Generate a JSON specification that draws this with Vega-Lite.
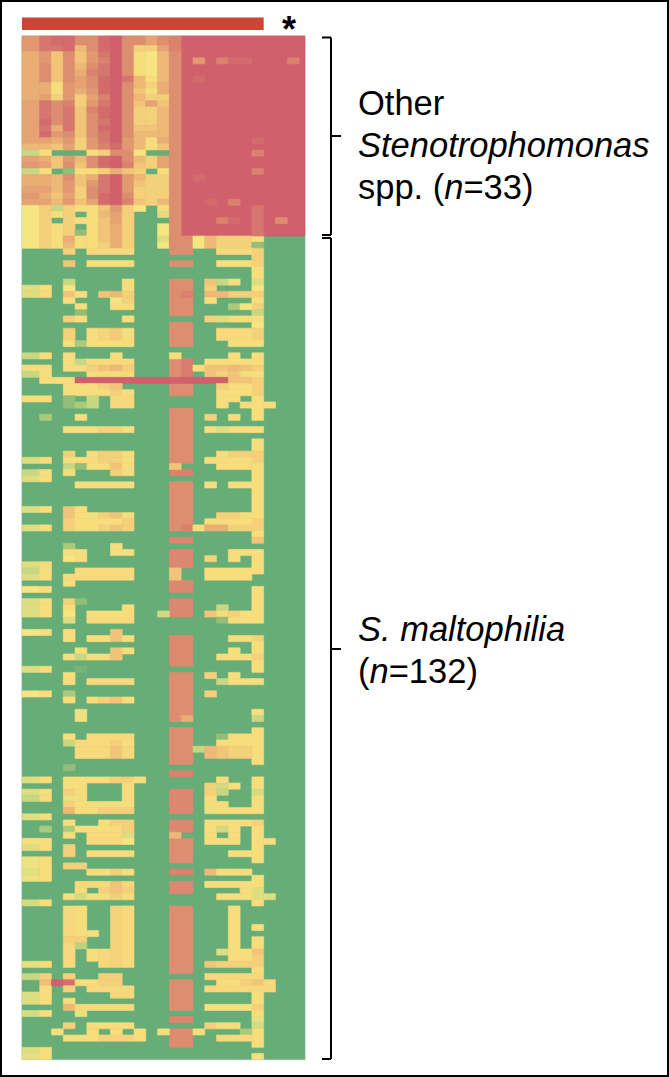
{"$schema":"https://vega.github.io/schema/vega-lite/v6.json","width":669,"height":1077,"padding":0,"autosize":{"type":"none"},"background":"white","view":{"stroke":"#000","strokeWidth":4},
"layer":[
{"data":{"values":[
{"x":-0.5,"x2":23.5,"y":-0.54,"y2":166,"v":0},{"x":13,"x2":23.5,"y":-0.54,"y2":32,"v":9},
{"x":-0.5,"x2":1,"y":-0.54,"y2":2,"v":6.5},{"x":-0.5,"x2":1,"y":2,"y2":10,"v":5.5},{"x":-0.5,"x2":1,"y":10,"y2":17,"v":6},{"x":-0.5,"x2":1,"y":17,"y2":18,"v":5},{"x":-0.5,"x2":1,"y":18,"y2":19,"v":2},{"x":-0.5,"x2":1,"y":19,"y2":20,"v":6},{"x":-0.5,"x2":1,"y":20,"y2":21,"v":6.5},{"x":-0.5,"x2":1,"y":21,"y2":22,"v":2},{"x":-0.5,"x2":1,"y":22,"y2":24,"v":5.5},{"x":-0.5,"x2":1,"y":24,"y2":25,"v":6},{"x":-0.5,"x2":1,"y":25,"y2":26,"v":6.5},{"x":-0.5,"x2":1,"y":26,"y2":27,"v":6},{"x":-0.5,"x2":1,"y":27,"y2":34,"v":3},
{"x":1,"x2":2,"y":-0.54,"y2":2,"v":8},{"x":1,"x2":2,"y":2,"y2":4,"v":6.5},{"x":1,"x2":2,"y":4,"y2":7,"v":7},{"x":1,"x2":2,"y":7,"y2":9,"v":5.5},{"x":1,"x2":2,"y":9,"y2":10,"v":6},{"x":1,"x2":2,"y":10,"y2":13,"v":8},{"x":1,"x2":2,"y":13,"y2":14,"v":8.5},{"x":1,"x2":2,"y":14,"y2":15,"v":8},{"x":1,"x2":2,"y":15,"y2":16,"v":8.5},{"x":1,"x2":2,"y":16,"y2":17,"v":6},{"x":1,"x2":2,"y":17,"y2":18,"v":5},{"x":1,"x2":2,"y":18,"y2":19,"v":3.5},{"x":1,"x2":2,"y":19,"y2":20,"v":5.5},{"x":1,"x2":2,"y":20,"y2":21,"v":6},{"x":1,"x2":2,"y":21,"y2":22,"v":3.5},{"x":1,"x2":2,"y":22,"y2":24,"v":5.5},{"x":1,"x2":2,"y":24,"y2":25,"v":6},{"x":1,"x2":2,"y":25,"y2":26,"v":5.5},{"x":1,"x2":2,"y":26,"y2":27,"v":6},{"x":1,"x2":2,"y":27,"y2":34,"v":4},
{"x":2,"x2":3,"y":-0.54,"y2":1,"v":8.5},{"x":2,"x2":3,"y":1,"y2":2,"v":8},{"x":2,"x2":3,"y":2,"y2":7,"v":4.5},{"x":2,"x2":3,"y":7,"y2":9,"v":3.5},{"x":2,"x2":3,"y":9,"y2":10,"v":4},{"x":2,"x2":3,"y":10,"y2":14,"v":7},{"x":2,"x2":3,"y":14,"y2":15,"v":5.5},{"x":2,"x2":3,"y":15,"y2":16,"v":6.5},{"x":2,"x2":3,"y":16,"y2":17,"v":5.5},{"x":2,"x2":3,"y":17,"y2":18,"v":4.5},{"x":2,"x2":3,"y":19,"y2":21,"v":4.5},{"x":2,"x2":3,"y":22,"y2":25,"v":5},{"x":2,"x2":3,"y":25,"y2":26,"v":4.5},{"x":2,"x2":3,"y":26,"y2":27,"v":5},{"x":2,"x2":3,"y":27,"y2":28,"v":2},{"x":2,"x2":3,"y":28,"y2":29,"v":3.5},{"x":2,"x2":3,"y":30,"y2":34,"v":3.5},
{"x":3,"x2":4,"y":-0.54,"y2":2,"v":8.5},{"x":3,"x2":4,"y":2,"y2":7,"v":7},{"x":3,"x2":4,"y":7,"y2":10,"v":6.5},{"x":3,"x2":4,"y":10,"y2":11,"v":7.5},{"x":3,"x2":4,"y":11,"y2":15,"v":8},{"x":3,"x2":4,"y":15,"y2":16,"v":7},{"x":3,"x2":4,"y":16,"y2":17,"v":6.5},{"x":3,"x2":4,"y":17,"y2":18,"v":6},{"x":3,"x2":4,"y":19,"y2":20,"v":6.5},{"x":3,"x2":4,"y":20,"y2":21,"v":7},{"x":3,"x2":4,"y":21,"y2":22,"v":1},{"x":3,"x2":4,"y":22,"y2":23,"v":7},{"x":3,"x2":4,"y":23,"y2":25,"v":6.5},{"x":3,"x2":4,"y":25,"y2":26,"v":6},{"x":3,"x2":4,"y":26,"y2":27,"v":6.5},{"x":3,"x2":4,"y":27,"y2":32,"v":4},{"x":3,"x2":4,"y":32,"y2":33,"v":5.5},{"x":3,"x2":4,"y":33,"y2":34,"v":5},
{"x":4,"x2":5,"y":-0.54,"y2":1,"v":7},{"x":4,"x2":5,"y":1,"y2":2,"v":5},{"x":4,"x2":5,"y":2,"y2":4,"v":4.5},{"x":4,"x2":5,"y":4,"y2":5,"v":5},{"x":4,"x2":5,"y":5,"y2":6,"v":5.5},{"x":4,"x2":5,"y":6,"y2":8,"v":6},{"x":4,"x2":5,"y":8,"y2":9,"v":5.5},{"x":4,"x2":5,"y":9,"y2":11,"v":4},{"x":4,"x2":5,"y":11,"y2":16,"v":4.5},{"x":4,"x2":5,"y":16,"y2":18,"v":4},{"x":4,"x2":5,"y":19,"y2":20,"v":5},{"x":4,"x2":5,"y":20,"y2":21,"v":4.5},{"x":4,"x2":5,"y":21,"y2":22,"v":3.5},{"x":4,"x2":5,"y":22,"y2":24,"v":4.5},{"x":4,"x2":5,"y":24,"y2":26,"v":4},{"x":4,"x2":5,"y":26,"y2":27,"v":4.5},{"x":4,"x2":5,"y":27,"y2":28,"v":3.5},{"x":4,"x2":5,"y":29,"y2":30,"v":3.5},{"x":4,"x2":5,"y":31,"y2":32,"v":1},{"x":4,"x2":5,"y":32,"y2":34,"v":3.5},
{"x":5,"x2":6,"y":-0.54,"y2":2,"v":7},{"x":5,"x2":6,"y":2,"y2":4,"v":6.5},{"x":5,"x2":6,"y":4,"y2":5,"v":7},{"x":5,"x2":6,"y":5,"y2":6,"v":7.5},{"x":5,"x2":6,"y":6,"y2":8,"v":7},{"x":5,"x2":6,"y":8,"y2":9,"v":6.5},{"x":5,"x2":6,"y":9,"y2":10,"v":6},{"x":5,"x2":6,"y":10,"y2":11,"v":6.5},{"x":5,"x2":6,"y":11,"y2":12,"v":7.5},{"x":5,"x2":6,"y":12,"y2":16,"v":7},{"x":5,"x2":6,"y":16,"y2":18,"v":6.5},{"x":5,"x2":6,"y":18,"y2":19,"v":3.5},{"x":5,"x2":6,"y":19,"y2":21,"v":7},{"x":5,"x2":6,"y":21,"y2":22,"v":3.5},{"x":5,"x2":6,"y":22,"y2":23,"v":5.5},{"x":5,"x2":6,"y":23,"y2":24,"v":6.5},{"x":5,"x2":6,"y":24,"y2":26,"v":7},{"x":5,"x2":6,"y":26,"y2":27,"v":6},{"x":5,"x2":6,"y":27,"y2":34,"v":3.5},
{"x":6,"x2":7,"y":-0.54,"y2":2,"v":8.5},{"x":6,"x2":7,"y":2,"y2":3,"v":8},{"x":6,"x2":7,"y":3,"y2":4,"v":7.5},{"x":6,"x2":7,"y":4,"y2":6,"v":8},{"x":6,"x2":7,"y":6,"y2":9,"v":8.5},{"x":6,"x2":7,"y":9,"y2":10,"v":7.5},{"x":6,"x2":7,"y":10,"y2":11,"v":8},{"x":6,"x2":7,"y":11,"y2":13,"v":8.5},{"x":6,"x2":7,"y":13,"y2":14,"v":8},{"x":6,"x2":7,"y":14,"y2":15,"v":8.5},{"x":6,"x2":7,"y":15,"y2":17,"v":8},{"x":6,"x2":7,"y":17,"y2":18,"v":7.5},{"x":6,"x2":7,"y":18,"y2":19,"v":4},{"x":6,"x2":7,"y":19,"y2":21,"v":8.5},{"x":6,"x2":7,"y":21,"y2":22,"v":4},{"x":6,"x2":7,"y":22,"y2":25,"v":8},{"x":6,"x2":7,"y":25,"y2":27,"v":8.5},{"x":6,"x2":7,"y":27,"y2":28,"v":4.5},{"x":6,"x2":7,"y":28,"y2":29,"v":5},{"x":6,"x2":7,"y":29,"y2":33,"v":4.5},{"x":6,"x2":7,"y":33,"y2":34,"v":4},
{"x":7,"x2":8,"y":-0.54,"y2":17,"v":9},{"x":7,"x2":8,"y":17,"y2":18,"v":8.5},{"x":7,"x2":8,"y":18,"y2":19,"v":7},{"x":7,"x2":8,"y":19,"y2":21,"v":9},{"x":7,"x2":8,"y":21,"y2":22,"v":5.5},{"x":7,"x2":8,"y":22,"y2":27,"v":9},{"x":7,"x2":8,"y":27,"y2":28,"v":6.5},{"x":7,"x2":8,"y":28,"y2":30,"v":6},{"x":7,"x2":8,"y":30,"y2":34,"v":5.5},
{"x":8,"x2":9,"y":-0.54,"y2":6,"v":7},{"x":8,"x2":9,"y":6,"y2":7,"v":8},{"x":8,"x2":9,"y":7,"y2":16,"v":7},{"x":8,"x2":9,"y":16,"y2":18,"v":6.5},{"x":8,"x2":9,"y":18,"y2":20,"v":7},{"x":8,"x2":9,"y":20,"y2":21,"v":7.5},{"x":8,"x2":9,"y":21,"y2":22,"v":4.5},{"x":8,"x2":9,"y":22,"y2":25,"v":6.5},{"x":8,"x2":9,"y":25,"y2":26,"v":7},{"x":8,"x2":9,"y":26,"y2":27,"v":7.5},{"x":8,"x2":9,"y":27,"y2":34,"v":4},
{"x":9,"x2":10,"y":-0.54,"y2":1,"v":7},{"x":9,"x2":10,"y":1,"y2":2,"v":4},{"x":9,"x2":10,"y":2,"y2":6,"v":3.5},{"x":9,"x2":10,"y":6,"y2":8,"v":5},{"x":9,"x2":10,"y":8,"y2":9,"v":4.5},{"x":9,"x2":10,"y":9,"y2":10,"v":5},{"x":9,"x2":10,"y":10,"y2":11,"v":4.5},{"x":9,"x2":10,"y":11,"y2":14,"v":4},{"x":9,"x2":10,"y":14,"y2":15,"v":4.5},{"x":9,"x2":10,"y":15,"y2":18,"v":5},{"x":9,"x2":10,"y":18,"y2":19,"v":3},{"x":9,"x2":10,"y":19,"y2":20,"v":5},{"x":9,"x2":10,"y":20,"y2":21,"v":4.5},{"x":9,"x2":10,"y":21,"y2":22,"v":4},{"x":9,"x2":10,"y":22,"y2":23,"v":5},{"x":9,"x2":10,"y":23,"y2":24,"v":4.5},{"x":9,"x2":10,"y":24,"y2":26,"v":4},{"x":9,"x2":10,"y":26,"y2":27,"v":4.5},{"x":9,"x2":10,"y":27,"y2":28,"v":3},
{"x":10,"x2":11,"y":-0.54,"y2":1,"v":6},{"x":10,"x2":11,"y":1,"y2":2,"v":4},{"x":10,"x2":11,"y":2,"y2":6,"v":3},{"x":10,"x2":11,"y":6,"y2":7,"v":3.5},{"x":10,"x2":11,"y":7,"y2":8,"v":4},{"x":10,"x2":11,"y":8,"y2":9,"v":3.5},{"x":10,"x2":11,"y":9,"y2":10,"v":4},{"x":10,"x2":11,"y":10,"y2":11,"v":6},{"x":10,"x2":11,"y":11,"y2":14,"v":4},{"x":10,"x2":11,"y":14,"y2":15,"v":4.5},{"x":10,"x2":11,"y":15,"y2":16,"v":5},{"x":10,"x2":11,"y":16,"y2":18,"v":3.5},{"x":10,"x2":11,"y":19,"y2":21,"v":4},{"x":10,"x2":11,"y":22,"y2":27,"v":4},
{"x":11,"x2":12,"y":-0.54,"y2":1,"v":7},{"x":11,"x2":12,"y":1,"y2":2,"v":6},{"x":11,"x2":12,"y":2,"y2":7,"v":5},{"x":11,"x2":12,"y":7,"y2":9,"v":5.5},{"x":11,"x2":12,"y":9,"y2":10,"v":4},{"x":11,"x2":12,"y":10,"y2":11,"v":4.5},{"x":11,"x2":12,"y":11,"y2":16,"v":5},{"x":11,"x2":12,"y":16,"y2":17,"v":5.5},{"x":11,"x2":12,"y":17,"y2":18,"v":4.5},{"x":11,"x2":12,"y":19,"y2":21,"v":6},{"x":11,"x2":12,"y":21,"y2":22,"v":3.5},{"x":11,"x2":12,"y":22,"y2":26,"v":4},{"x":11,"x2":12,"y":26,"y2":27,"v":5},{"x":11,"x2":12,"y":27,"y2":28,"v":3.5},{"x":11,"x2":12,"y":28,"y2":29,"v":2.5},{"x":11,"x2":12,"y":30,"y2":32,"v":3},{"x":11,"x2":12,"y":32,"y2":33,"v":2.5},{"x":11,"x2":12,"y":33,"y2":34,"v":3},
{"x":12,"x2":13,"y":-0.54,"y2":2,"v":7.5},{"x":12,"x2":13,"y":2,"y2":35,"v":7},{"x":13,"x2":14,"y":32,"y2":35,"v":7},{"x":14,"x2":15,"y":32,"y2":34,"v":3},{"x":15,"x2":16,"y":32,"y2":34,"v":5},{"x":16,"x2":19,"y":32,"y2":34,"v":4},{"x":19,"x2":20,"y":32,"y2":33,"v":3.5},{"x":19,"x2":20,"y":33,"y2":34,"v":1},
{"x":14,"x2":15,"y":3,"y2":4,"v":6.5},{"x":16,"x2":17,"y":3,"y2":4,"v":7.5},{"x":17,"x2":19,"y":3,"y2":4,"v":8.5},{"x":22,"x2":23,"y":3,"y2":4,"v":7.5},{"x":14,"x2":15,"y":6,"y2":7,"v":8.5},{"x":19,"x2":20,"y":16,"y2":17,"v":8.5},{"x":19,"x2":20,"y":18,"y2":19,"v":7.5},{"x":19,"x2":20,"y":21,"y2":22,"v":7.5},{"x":14,"x2":15,"y":22,"y2":23,"v":8.5},{"x":15,"x2":16,"y":26,"y2":27,"v":8.5},{"x":17,"x2":18,"y":26,"y2":27,"v":7.5},{"x":16,"x2":17,"y":29,"y2":30,"v":7.5},{"x":17,"x2":18,"y":29,"y2":30,"v":8.5},{"x":21,"x2":22,"y":29,"y2":30,"v":7},{"x":19,"x2":20,"y":27,"y2":32,"v":8},
{"x":12,"x2":14,"y":36,"y2":37,"v":7},{"x":12,"x2":14,"y":39,"y2":45,"v":7},{"x":12,"x2":14,"y":46,"y2":50,"v":7},{"x":12,"x2":14,"y":52,"y2":58,"v":7},{"x":12,"x2":14,"y":60,"y2":69,"v":7},{"x":12,"x2":14,"y":70,"y2":71,"v":7.5},{"x":12,"x2":14,"y":72,"y2":80,"v":7},{"x":12,"x2":14,"y":81,"y2":82,"v":7.3},{"x":12,"x2":14,"y":83,"y2":86,"v":7.3},{"x":12,"x2":14,"y":88,"y2":90,"v":7.3},{"x":12,"x2":14,"y":91,"y2":94,"v":7.3},{"x":12,"x2":14,"y":97,"y2":102,"v":7.2},{"x":12,"x2":14,"y":103,"y2":110,"v":7},{"x":12,"x2":13,"y":110,"y2":111,"v":7},{"x":13,"x2":14,"y":110,"y2":111,"v":5.5},{"x":12,"x2":14,"y":112,"y2":118,"v":7},{"x":12,"x2":14,"y":119,"y2":120,"v":7.5},{"x":12,"x2":14,"y":122,"y2":126,"v":7.3},{"x":12,"x2":14,"y":127,"y2":129,"v":7.3},{"x":12,"x2":14,"y":130,"y2":134,"v":7},{"x":12,"x2":14,"y":135,"y2":136,"v":7.5},{"x":12,"x2":14,"y":137,"y2":139,"v":7.3},{"x":12,"x2":14,"y":141,"y2":152,"v":7},{"x":12,"x2":14,"y":153,"y2":158,"v":7},{"x":12,"x2":14,"y":159,"y2":160,"v":7.3},{"x":12,"x2":14,"y":161,"y2":164,"v":7.1},
{"x":13,"x2":14,"y":41,"y2":42,"v":7.6},{"x":13,"x2":14,"y":52,"y2":55,"v":7.7},{"x":13,"x2":14,"y":79,"y2":80,"v":7.6},{"x":12,"x2":13,"y":51,"y2":52,"v":3.5},{"x":12,"x2":13,"y":69,"y2":70,"v":4.5},{"x":12,"x2":13,"y":86,"y2":88,"v":4.5},{"x":12,"x2":13,"y":129,"y2":130,"v":5},
{"x":19,"x2":20,"y":34,"y2":37,"v":4},{"x":19,"x2":20,"y":37,"y2":39,"v":3.5},{"x":19,"x2":20,"y":39,"y2":40,"v":2.5},{"x":19,"x2":20,"y":40,"y2":41,"v":3},{"x":19,"x2":20,"y":41,"y2":42,"v":4},{"x":19,"x2":20,"y":42,"y2":43,"v":3.5},{"x":19,"x2":20,"y":43,"y2":44,"v":4},{"x":19,"x2":20,"y":44,"y2":45,"v":2},{"x":19,"x2":20,"y":45,"y2":46,"v":3.5},{"x":19,"x2":20,"y":46,"y2":47,"v":3},{"x":19,"x2":20,"y":47,"y2":49,"v":4},{"x":19,"x2":20,"y":49,"y2":50,"v":3.5},{"x":19,"x2":20,"y":51,"y2":53,"v":3.5},{"x":19,"x2":20,"y":53,"y2":54,"v":4},{"x":19,"x2":20,"y":54,"y2":55,"v":3.5},{"x":19,"x2":20,"y":55,"y2":58,"v":4},{"x":19,"x2":20,"y":58,"y2":62,"v":3.5},{"x":19,"x2":20,"y":63,"y2":64,"v":3.5},{"x":19,"x2":20,"y":65,"y2":67,"v":3.5},{"x":19,"x2":20,"y":67,"y2":69,"v":4},{"x":19,"x2":20,"y":69,"y2":78,"v":3.5},{"x":19,"x2":20,"y":78,"y2":80,"v":4},{"x":19,"x2":20,"y":80,"y2":81,"v":3.5},{"x":19,"x2":20,"y":81,"y2":82,"v":4.5},{"x":19,"x2":20,"y":83,"y2":87,"v":3.5},{"x":19,"x2":20,"y":89,"y2":95,"v":3.5},{"x":19,"x2":20,"y":97,"y2":98,"v":4},{"x":19,"x2":20,"y":98,"y2":100,"v":3.5},{"x":19,"x2":20,"y":100,"y2":101,"v":4},{"x":19,"x2":20,"y":101,"y2":103,"v":3.5},{"x":19,"x2":20,"y":104,"y2":105,"v":3.5},{"x":19,"x2":20,"y":109,"y2":110,"v":3.5},{"x":19,"x2":20,"y":110,"y2":111,"v":2},{"x":19,"x2":20,"y":112,"y2":118,"v":3.5},{"x":19,"x2":20,"y":120,"y2":122,"v":3.5},{"x":19,"x2":20,"y":122,"y2":123,"v":2.3},{"x":19,"x2":20,"y":123,"y2":126,"v":3.5},{"x":19,"x2":20,"y":127,"y2":128,"v":4},{"x":19,"x2":20,"y":128,"y2":134,"v":3.5},{"x":19,"x2":20,"y":136,"y2":138,"v":3.5},{"x":19,"x2":20,"y":138,"y2":140,"v":2.5},{"x":19,"x2":20,"y":140,"y2":141,"v":3.5},{"x":19,"x2":20,"y":144,"y2":145,"v":3.5},{"x":19,"x2":20,"y":146,"y2":148,"v":3.5},{"x":19,"x2":20,"y":148,"y2":149,"v":4.5},{"x":19,"x2":20,"y":149,"y2":151,"v":4},{"x":19,"x2":20,"y":151,"y2":152,"v":3.5},{"x":19,"x2":20,"y":152,"y2":153,"v":3.7},{"x":19,"x2":20,"y":153,"y2":154,"v":4.5},{"x":19,"x2":20,"y":154,"y2":155,"v":3.7},{"x":19,"x2":20,"y":155,"y2":157,"v":3.5},{"x":19,"x2":20,"y":157,"y2":158,"v":4},{"x":19,"x2":20,"y":158,"y2":159,"v":3.5},{"x":19,"x2":20,"y":159,"y2":160,"v":2.7},{"x":19,"x2":20,"y":160,"y2":161,"v":2.3},{"x":19,"x2":20,"y":161,"y2":164,"v":3.5},{"x":19,"x2":20,"y":165,"y2":166,"v":3.5},
{"x":3,"x2":4,"y":34,"y2":35,"v":4},{"x":5,"x2":9,"y":34,"y2":35,"v":3.6},{"x":16,"x2":19,"y":34,"y2":35,"v":3.6},
{"x":3,"x2":4,"y":36,"y2":37,"v":4.5},{"x":5,"x2":9,"y":36,"y2":37,"v":3.5},{"x":16,"x2":19,"y":36,"y2":37,"v":3.5},
{"x":3,"x2":4,"y":39,"y2":40,"v":2},{"x":8,"x2":9,"y":39,"y2":40,"v":3.5},{"x":15,"x2":16,"y":39,"y2":40,"v":4.5},{"x":16,"x2":17,"y":39,"y2":40,"v":2},{"x":17,"x2":18,"y":39,"y2":40,"v":3.5},
{"x":-0.5,"x2":1,"y":40,"y2":41,"v":2.5},{"x":1,"x2":2,"y":40,"y2":41,"v":3.5},{"x":3,"x2":4,"y":40,"y2":41,"v":3},{"x":8,"x2":9,"y":40,"y2":41,"v":3.5},{"x":15,"x2":16,"y":40,"y2":41,"v":4},
{"x":-0.5,"x2":1,"y":41,"y2":42,"v":2.5},{"x":1,"x2":2,"y":41,"y2":42,"v":3.5},{"x":3,"x2":4,"y":41,"y2":42,"v":4.5},{"x":4,"x2":5,"y":41,"y2":42,"v":3.5},{"x":6,"x2":7,"y":41,"y2":42,"v":4.5},{"x":7,"x2":8,"y":41,"y2":42,"v":5},{"x":8,"x2":9,"y":41,"y2":42,"v":4},{"x":15,"x2":17,"y":41,"y2":42,"v":5},{"x":17,"x2":19,"y":41,"y2":42,"v":4},
{"x":3,"x2":4,"y":42,"y2":43,"v":3.5},{"x":7,"x2":8,"y":42,"y2":43,"v":3},{"x":8,"x2":9,"y":42,"y2":43,"v":4},{"x":15,"x2":16,"y":42,"y2":43,"v":3.5},
{"x":4,"x2":5,"y":43,"y2":44,"v":3.5},{"x":7,"x2":9,"y":43,"y2":44,"v":3.5},{"x":17,"x2":18,"y":43,"y2":44,"v":1.5},{"x":18,"x2":19,"y":43,"y2":44,"v":3},{"x":4,"x2":5,"y":44,"y2":45,"v":1},
{"x":3,"x2":4,"y":45,"y2":46,"v":4},{"x":4,"x2":5,"y":45,"y2":46,"v":3.5},{"x":8,"x2":9,"y":45,"y2":46,"v":3.5},{"x":15,"x2":16,"y":45,"y2":46,"v":4},{"x":16,"x2":17,"y":45,"y2":46,"v":2.5},{"x":17,"x2":19,"y":45,"y2":46,"v":3.5},
{"x":3,"x2":4,"y":47,"y2":49,"v":4},{"x":5,"x2":6,"y":47,"y2":49,"v":3.5},{"x":6,"x2":7,"y":47,"y2":49,"v":3.8},{"x":7,"x2":8,"y":47,"y2":49,"v":4.2},{"x":8,"x2":9,"y":47,"y2":49,"v":3.5},{"x":16,"x2":19,"y":47,"y2":49,"v":3.6},
{"x":3,"x2":4,"y":49,"y2":50,"v":3.5},{"x":4,"x2":5,"y":49,"y2":50,"v":1.5},{"x":5,"x2":9,"y":49,"y2":50,"v":3.5},{"x":17,"x2":19,"y":49,"y2":50,"v":3.5},
{"x":-0.5,"x2":1,"y":51,"y2":52,"v":2},{"x":1,"x2":2,"y":51,"y2":52,"v":3.5},{"x":3,"x2":4,"y":51,"y2":52,"v":3.5},{"x":7,"x2":8,"y":51,"y2":52,"v":3.5},{"x":17,"x2":18,"y":51,"y2":52,"v":3.5},
{"x":3,"x2":4,"y":52,"y2":53,"v":3.5},{"x":4,"x2":5,"y":52,"y2":53,"v":2},{"x":5,"x2":9,"y":52,"y2":53,"v":3.6},{"x":15,"x2":19,"y":52,"y2":53,"v":3.5},
{"x":-0.5,"x2":2,"y":53,"y2":54,"v":3.5},{"x":3,"x2":5,"y":53,"y2":54,"v":3.5},{"x":5,"x2":6,"y":53,"y2":54,"v":4},{"x":6,"x2":7,"y":53,"y2":54,"v":4.5},{"x":7,"x2":8,"y":53,"y2":54,"v":5},{"x":8,"x2":9,"y":53,"y2":54,"v":4},{"x":14,"x2":15,"y":53,"y2":54,"v":3.5},{"x":15,"x2":17,"y":53,"y2":54,"v":4.5},{"x":17,"x2":18,"y":53,"y2":54,"v":5},{"x":18,"x2":19,"y":53,"y2":54,"v":4.5},
{"x":-0.5,"x2":1,"y":54,"y2":55,"v":2},{"x":1,"x2":2,"y":54,"y2":55,"v":3.5},{"x":5,"x2":9,"y":54,"y2":55,"v":3.6},{"x":15,"x2":16,"y":54,"y2":55,"v":4.5},{"x":16,"x2":17,"y":54,"y2":55,"v":4},{"x":17,"x2":18,"y":54,"y2":55,"v":4.5},{"x":18,"x2":19,"y":54,"y2":55,"v":3.5},
{"x":1,"x2":4,"y":55,"y2":56,"v":3.5},{"x":4,"x2":17,"y":55,"y2":56,"v":9},{"x":17,"x2":19,"y":55,"y2":56,"v":4.5},
{"x":3,"x2":6,"y":56,"y2":57,"v":3.5},{"x":6,"x2":7,"y":56,"y2":57,"v":4},{"x":7,"x2":8,"y":56,"y2":57,"v":4.5},{"x":16,"x2":17,"y":56,"y2":57,"v":4},{"x":17,"x2":19,"y":56,"y2":57,"v":3.5},
{"x":3,"x2":7,"y":57,"y2":58,"v":3.5},{"x":7,"x2":8,"y":57,"y2":58,"v":4},{"x":8,"x2":9,"y":57,"y2":58,"v":3.5},{"x":16,"x2":19,"y":57,"y2":58,"v":3.5},
{"x":-0.5,"x2":2,"y":58,"y2":59,"v":3.5},{"x":3,"x2":4,"y":58,"y2":59,"v":1},{"x":5,"x2":6,"y":58,"y2":59,"v":2},{"x":7,"x2":9,"y":58,"y2":59,"v":3.7},{"x":16,"x2":18,"y":58,"y2":59,"v":3.5},
{"x":3,"x2":4,"y":59,"y2":60,"v":1},{"x":4,"x2":5,"y":59,"y2":60,"v":1.5},{"x":5,"x2":6,"y":59,"y2":60,"v":2},{"x":7,"x2":9,"y":59,"y2":60,"v":3.7},{"x":16,"x2":17,"y":59,"y2":60,"v":3.5},{"x":18,"x2":19,"y":59,"y2":60,"v":3.5},{"x":20,"x2":21,"y":59,"y2":60,"v":3.5},
{"x":1,"x2":2,"y":61,"y2":62,"v":1.5},{"x":4,"x2":5,"y":61,"y2":62,"v":3.5},{"x":15,"x2":16,"y":61,"y2":62,"v":4},{"x":17,"x2":18,"y":61,"y2":62,"v":3.5},
{"x":3,"x2":6,"y":63,"y2":64,"v":3.5},{"x":6,"x2":8,"y":63,"y2":64,"v":3.9},{"x":8,"x2":9,"y":63,"y2":64,"v":3.5},{"x":15,"x2":16,"y":63,"y2":64,"v":3.5},{"x":16,"x2":17,"y":63,"y2":64,"v":2.5},{"x":17,"x2":19,"y":63,"y2":64,"v":3.5},
{"x":3,"x2":4,"y":67,"y2":68,"v":4},{"x":5,"x2":6,"y":67,"y2":68,"v":3.5},{"x":6,"x2":8,"y":67,"y2":68,"v":4},{"x":8,"x2":9,"y":67,"y2":68,"v":3.5},{"x":16,"x2":17,"y":67,"y2":68,"v":3.5},{"x":17,"x2":19,"y":67,"y2":68,"v":4},
{"x":-0.5,"x2":1,"y":68,"y2":69,"v":2.5},{"x":1,"x2":2,"y":68,"y2":69,"v":3.5},{"x":3,"x2":6,"y":68,"y2":69,"v":3.5},{"x":6,"x2":8,"y":68,"y2":69,"v":4},{"x":8,"x2":9,"y":68,"y2":69,"v":3.5},{"x":15,"x2":19,"y":68,"y2":69,"v":3.5},
{"x":3,"x2":4,"y":69,"y2":70,"v":2},{"x":4,"x2":5,"y":69,"y2":70,"v":1},{"x":5,"x2":7,"y":69,"y2":70,"v":3.5},{"x":7,"x2":8,"y":69,"y2":70,"v":4.5},{"x":8,"x2":9,"y":69,"y2":70,"v":3.5},{"x":16,"x2":19,"y":69,"y2":70,"v":3.5},
{"x":-0.5,"x2":1,"y":70,"y2":71,"v":2},{"x":1,"x2":2,"y":70,"y2":71,"v":3.5},{"x":3,"x2":4,"y":70,"y2":71,"v":3.5},{"x":7,"x2":8,"y":70,"y2":71,"v":4},{"x":8,"x2":9,"y":70,"y2":71,"v":3.5},
{"x":-0.5,"x2":1,"y":71,"y2":72,"v":2.5},{"x":1,"x2":2,"y":71,"y2":72,"v":3.5},
{"x":4,"x2":9,"y":72,"y2":73,"v":3.5},{"x":15,"x2":16,"y":72,"y2":73,"v":3.5},{"x":17,"x2":19,"y":72,"y2":73,"v":3.5},
{"x":-0.5,"x2":1,"y":76,"y2":77,"v":2.5},{"x":1,"x2":2,"y":76,"y2":77,"v":3.5},{"x":3,"x2":4,"y":76,"y2":77,"v":4.5},{"x":4,"x2":5,"y":76,"y2":77,"v":3.5},
{"x":3,"x2":4,"y":77,"y2":78,"v":4.5},{"x":4,"x2":6,"y":77,"y2":78,"v":3.5},{"x":6,"x2":7,"y":77,"y2":78,"v":4},{"x":7,"x2":8,"y":77,"y2":78,"v":4.5},{"x":8,"x2":9,"y":77,"y2":78,"v":3.5},{"x":16,"x2":18,"y":77,"y2":78,"v":4},{"x":18,"x2":19,"y":77,"y2":78,"v":3.5},
{"x":3,"x2":4,"y":78,"y2":79,"v":4},{"x":4,"x2":8,"y":78,"y2":79,"v":3.5},{"x":8,"x2":9,"y":78,"y2":79,"v":4},{"x":15,"x2":19,"y":78,"y2":79,"v":3.5},
{"x":-0.5,"x2":1,"y":79,"y2":80,"v":2.5},{"x":1,"x2":2,"y":79,"y2":80,"v":3.5},{"x":3,"x2":4,"y":79,"y2":80,"v":4},{"x":4,"x2":6,"y":79,"y2":80,"v":3.5},{"x":6,"x2":7,"y":79,"y2":80,"v":4},{"x":7,"x2":8,"y":79,"y2":80,"v":4.5},{"x":8,"x2":9,"y":79,"y2":80,"v":4},{"x":14,"x2":15,"y":79,"y2":80,"v":3.5},{"x":15,"x2":17,"y":79,"y2":80,"v":5.5},{"x":17,"x2":19,"y":79,"y2":80,"v":4},
{"x":3,"x2":4,"y":82,"y2":83,"v":1.5},{"x":7,"x2":8,"y":82,"y2":83,"v":3.5},
{"x":3,"x2":5,"y":83,"y2":84,"v":3.5},{"x":7,"x2":9,"y":83,"y2":84,"v":3.5},{"x":17,"x2":19,"y":83,"y2":84,"v":3.5},
{"x":3,"x2":4,"y":84,"y2":85,"v":3},{"x":4,"x2":5,"y":84,"y2":85,"v":3.5},{"x":15,"x2":16,"y":84,"y2":85,"v":4},{"x":17,"x2":18,"y":84,"y2":85,"v":3.5},
{"x":-0.5,"x2":1,"y":85,"y2":86,"v":2.5},{"x":1,"x2":2,"y":85,"y2":86,"v":3.5},
{"x":-0.5,"x2":1,"y":86,"y2":87,"v":2},{"x":1,"x2":2,"y":86,"y2":87,"v":3.5},{"x":4,"x2":9,"y":86,"y2":87,"v":3.6},{"x":15,"x2":19,"y":86,"y2":87,"v":3.5},
{"x":-0.5,"x2":1,"y":87,"y2":88,"v":2.5},{"x":1,"x2":2,"y":87,"y2":88,"v":3.5},{"x":3,"x2":9,"y":87,"y2":88,"v":3.6},{"x":15,"x2":19,"y":87,"y2":88,"v":3.5},
{"x":3,"x2":4,"y":88,"y2":89,"v":3.5},{"x":-0.5,"x2":1,"y":89,"y2":90,"v":3},{"x":1,"x2":2,"y":89,"y2":90,"v":3.5},
{"x":-0.5,"x2":1,"y":91,"y2":92,"v":2.5},{"x":1,"x2":2,"y":91,"y2":92,"v":3.5},{"x":3,"x2":4,"y":91,"y2":92,"v":4},{"x":4,"x2":5,"y":91,"y2":92,"v":1},
{"x":-0.5,"x2":1,"y":92,"y2":93,"v":2.5},{"x":1,"x2":2,"y":92,"y2":93,"v":3.5},{"x":3,"x2":4,"y":92,"y2":93,"v":3.5},{"x":8,"x2":9,"y":92,"y2":93,"v":3.5},{"x":16,"x2":17,"y":92,"y2":93,"v":2},
{"x":-0.5,"x2":1,"y":93,"y2":94,"v":2.5},{"x":1,"x2":2,"y":93,"y2":94,"v":3.5},{"x":3,"x2":4,"y":93,"y2":94,"v":3},{"x":5,"x2":9,"y":93,"y2":94,"v":3.5},{"x":11,"x2":12,"y":93,"y2":94,"v":2.2},{"x":15,"x2":16,"y":93,"y2":94,"v":4.5},{"x":16,"x2":17,"y":93,"y2":94,"v":3.5},{"x":17,"x2":18,"y":93,"y2":94,"v":4},{"x":18,"x2":19,"y":93,"y2":94,"v":3.5},
{"x":3,"x2":4,"y":94,"y2":95,"v":2.5},{"x":5,"x2":9,"y":94,"y2":95,"v":3.6},{"x":16,"x2":17,"y":94,"y2":95,"v":1},{"x":17,"x2":19,"y":94,"y2":95,"v":3.5},
{"x":-0.5,"x2":1,"y":96,"y2":97,"v":3},{"x":1,"x2":2,"y":96,"y2":97,"v":3.5},{"x":3,"x2":4,"y":96,"y2":97,"v":3.5},{"x":7,"x2":8,"y":96,"y2":97,"v":4.5},
{"x":3,"x2":4,"y":97,"y2":98,"v":3.5},{"x":5,"x2":7,"y":97,"y2":98,"v":3.5},{"x":7,"x2":8,"y":97,"y2":98,"v":4.5},{"x":8,"x2":9,"y":97,"y2":98,"v":3.5},{"x":17,"x2":19,"y":97,"y2":98,"v":3.5},
{"x":4,"x2":5,"y":99,"y2":100,"v":3.5},{"x":7,"x2":8,"y":99,"y2":100,"v":4.5},{"x":8,"x2":9,"y":99,"y2":100,"v":3.5},{"x":17,"x2":18,"y":99,"y2":100,"v":3.5},
{"x":3,"x2":4,"y":100,"y2":101,"v":3.5},{"x":4,"x2":5,"y":100,"y2":101,"v":2},{"x":5,"x2":7,"y":100,"y2":101,"v":3.5},{"x":7,"x2":8,"y":100,"y2":101,"v":4.5},{"x":16,"x2":19,"y":100,"y2":101,"v":3.5},
{"x":-0.5,"x2":1,"y":102,"y2":103,"v":2.5},{"x":1,"x2":2,"y":102,"y2":103,"v":3.5},{"x":4,"x2":5,"y":102,"y2":103,"v":0.4},
{"x":3,"x2":4,"y":103,"y2":104,"v":3.5},{"x":15,"x2":16,"y":103,"y2":104,"v":4},{"x":17,"x2":18,"y":103,"y2":104,"v":3.5},
{"x":3,"x2":4,"y":104,"y2":105,"v":3.5},{"x":5,"x2":9,"y":104,"y2":105,"v":3.6},{"x":16,"x2":17,"y":104,"y2":105,"v":2},{"x":17,"x2":19,"y":104,"y2":105,"v":3.5},
{"x":-0.5,"x2":1,"y":106,"y2":107,"v":3},{"x":1,"x2":2,"y":106,"y2":107,"v":3.5},{"x":3,"x2":4,"y":106,"y2":107,"v":1.5},{"x":15,"x2":16,"y":106,"y2":107,"v":4},
{"x":3,"x2":4,"y":107,"y2":108,"v":3.5},{"x":5,"x2":6,"y":107,"y2":108,"v":3.5},{"x":6,"x2":7,"y":107,"y2":108,"v":4},{"x":7,"x2":8,"y":107,"y2":108,"v":4.5},{"x":8,"x2":9,"y":107,"y2":108,"v":3.5},
{"x":4,"x2":5,"y":109,"y2":111,"v":2.8},
{"x":3,"x2":4,"y":113,"y2":114,"v":3.5},{"x":5,"x2":9,"y":113,"y2":114,"v":3.6},{"x":16,"x2":17,"y":113,"y2":114,"v":1},{"x":17,"x2":19,"y":113,"y2":114,"v":3.5},
{"x":3,"x2":4,"y":114,"y2":115,"v":2},{"x":4,"x2":7,"y":114,"y2":115,"v":3.6},{"x":7,"x2":8,"y":114,"y2":115,"v":4},{"x":8,"x2":9,"y":114,"y2":115,"v":3.5},{"x":16,"x2":19,"y":114,"y2":115,"v":3.5},
{"x":4,"x2":7,"y":115,"y2":117,"v":3.6},{"x":7,"x2":8,"y":115,"y2":117,"v":4.5},{"x":8,"x2":9,"y":115,"y2":117,"v":3.7},{"x":14,"x2":15,"y":115,"y2":116,"v":2},{"x":15,"x2":16,"y":115,"y2":117,"v":5},{"x":16,"x2":17,"y":115,"y2":117,"v":4.5},{"x":17,"x2":19,"y":115,"y2":117,"v":4},
{"x":3,"x2":4,"y":118,"y2":119,"v":1},
{"x":-0.5,"x2":1,"y":120,"y2":121,"v":2.5},{"x":1,"x2":2,"y":120,"y2":121,"v":3.5},{"x":3,"x2":7,"y":120,"y2":121,"v":3.5},{"x":7,"x2":9,"y":120,"y2":121,"v":4},{"x":9,"x2":10,"y":120,"y2":121,"v":3.5},{"x":16,"x2":17,"y":120,"y2":121,"v":3.5},
{"x":3,"x2":5,"y":121,"y2":122,"v":3.5},{"x":8,"x2":9,"y":121,"y2":122,"v":3.5},{"x":15,"x2":16,"y":121,"y2":122,"v":4},{"x":16,"x2":17,"y":121,"y2":122,"v":2.2},{"x":17,"x2":18,"y":121,"y2":122,"v":3.5},
{"x":-0.5,"x2":1,"y":122,"y2":123,"v":2.5},{"x":1,"x2":2,"y":122,"y2":123,"v":3.5},{"x":3,"x2":4,"y":122,"y2":123,"v":4},{"x":4,"x2":5,"y":122,"y2":123,"v":3.5},{"x":8,"x2":9,"y":122,"y2":123,"v":3.5},{"x":15,"x2":16,"y":122,"y2":123,"v":4},{"x":16,"x2":17,"y":122,"y2":123,"v":2},
{"x":-0.5,"x2":1,"y":123,"y2":124,"v":2},{"x":1,"x2":2,"y":123,"y2":124,"v":3.5},{"x":3,"x2":4,"y":123,"y2":124,"v":2.7},{"x":4,"x2":5,"y":123,"y2":124,"v":3.5},{"x":8,"x2":9,"y":123,"y2":124,"v":3.5},{"x":15,"x2":16,"y":123,"y2":124,"v":3.5},
{"x":3,"x2":4,"y":124,"y2":125,"v":4},{"x":4,"x2":9,"y":124,"y2":125,"v":3.5},{"x":15,"x2":17,"y":124,"y2":125,"v":3.5},
{"x":3,"x2":4,"y":125,"y2":126,"v":5},{"x":4,"x2":6,"y":125,"y2":126,"v":3.5},{"x":6,"x2":9,"y":125,"y2":126,"v":4},{"x":15,"x2":16,"y":125,"y2":126,"v":2.7},{"x":16,"x2":19,"y":125,"y2":126,"v":3.5},
{"x":-0.5,"x2":1,"y":126,"y2":127,"v":2.5},{"x":1,"x2":2,"y":126,"y2":127,"v":3.5},
{"x":3,"x2":4,"y":127,"y2":128,"v":3.5},{"x":6,"x2":7,"y":127,"y2":128,"v":3.5},{"x":7,"x2":9,"y":127,"y2":128,"v":4},{"x":15,"x2":19,"y":127,"y2":128,"v":3.5},
{"x":1,"x2":2,"y":128,"y2":129,"v":1.5},{"x":3,"x2":4,"y":128,"y2":129,"v":1.5},{"x":4,"x2":8,"y":128,"y2":129,"v":3.5},{"x":8,"x2":9,"y":128,"y2":129,"v":4},{"x":15,"x2":16,"y":128,"y2":129,"v":3.5},{"x":16,"x2":17,"y":128,"y2":129,"v":2.2},{"x":17,"x2":18,"y":128,"y2":129,"v":3.5},
{"x":3,"x2":4,"y":129,"y2":130,"v":3.5},{"x":5,"x2":8,"y":129,"y2":130,"v":3.6},{"x":8,"x2":9,"y":129,"y2":130,"v":2.5},{"x":15,"x2":16,"y":129,"y2":130,"v":3.5},{"x":17,"x2":18,"y":129,"y2":130,"v":3.5},
{"x":-0.5,"x2":2,"y":130,"y2":131,"v":3.5},{"x":5,"x2":8,"y":130,"y2":131,"v":3.6},{"x":8,"x2":9,"y":130,"y2":131,"v":3},{"x":15,"x2":18,"y":130,"y2":131,"v":3.5},{"x":20,"x2":21,"y":130,"y2":131,"v":3.5},
{"x":-0.5,"x2":1,"y":131,"y2":132,"v":2.5},{"x":1,"x2":2,"y":131,"y2":132,"v":3.5},{"x":3,"x2":4,"y":131,"y2":133,"v":4},{"x":5,"x2":9,"y":132,"y2":133,"v":3.5},{"x":17,"x2":19,"y":132,"y2":133,"v":3.5},
{"x":-0.5,"x2":1,"y":133,"y2":135,"v":2.8},{"x":1,"x2":2,"y":133,"y2":137,"v":3.5},{"x":3,"x2":5,"y":134,"y2":135,"v":4},
{"x":-0.5,"x2":1,"y":135,"y2":136,"v":2.6},{"x":5,"x2":7,"y":135,"y2":136,"v":3.5},{"x":7,"x2":8,"y":135,"y2":136,"v":4},{"x":8,"x2":9,"y":135,"y2":136,"v":3.5},{"x":15,"x2":16,"y":135,"y2":136,"v":5},{"x":16,"x2":19,"y":135,"y2":136,"v":3.5},
{"x":-0.5,"x2":1,"y":136,"y2":137,"v":2.8},
{"x":4,"x2":7,"y":137,"y2":138,"v":3.6},{"x":7,"x2":8,"y":137,"y2":138,"v":4.5},{"x":8,"x2":9,"y":137,"y2":138,"v":3.7},{"x":15,"x2":19,"y":137,"y2":138,"v":3.5},
{"x":4,"x2":5,"y":138,"y2":139,"v":3.5},{"x":6,"x2":7,"y":138,"y2":139,"v":4},{"x":7,"x2":8,"y":138,"y2":139,"v":4.5},{"x":8,"x2":9,"y":138,"y2":139,"v":4},{"x":18,"x2":19,"y":138,"y2":139,"v":3.5},
{"x":3,"x2":4,"y":139,"y2":140,"v":3.5},{"x":4,"x2":5,"y":139,"y2":140,"v":2.3},{"x":5,"x2":7,"y":139,"y2":140,"v":3.5},{"x":7,"x2":8,"y":139,"y2":140,"v":4},{"x":8,"x2":9,"y":139,"y2":140,"v":3.5},{"x":16,"x2":19,"y":139,"y2":140,"v":3.5},{"x":20,"x2":21,"y":139,"y2":140,"v":2.5},
{"x":-0.5,"x2":1,"y":140,"y2":141,"v":2.3},{"x":1,"x2":2,"y":140,"y2":141,"v":3.5},
{"x":3,"x2":4,"y":141,"y2":146,"v":3.7},{"x":3,"x2":4,"y":146,"y2":147,"v":4},{"x":3,"x2":4,"y":147,"y2":151,"v":3.7},{"x":4,"x2":5,"y":141,"y2":146,"v":3.5},{"x":4,"x2":5,"y":146,"y2":147,"v":4},{"x":4,"x2":5,"y":147,"y2":148,"v":1.8},{"x":5,"x2":6,"y":145,"y2":146,"v":3.5},{"x":5,"x2":6,"y":148,"y2":150,"v":3.5},{"x":6,"x2":7,"y":148,"y2":151,"v":3.7},{"x":7,"x2":8,"y":141,"y2":151,"v":3.9},{"x":8,"x2":9,"y":141,"y2":151,"v":3.6},{"x":17,"x2":18,"y":141,"y2":148,"v":3.5},{"x":16,"x2":17,"y":148,"y2":149,"v":2.5},{"x":17,"x2":19,"y":148,"y2":150,"v":3.5},
{"x":-0.5,"x2":1,"y":150,"y2":151,"v":2.7},{"x":1,"x2":2,"y":150,"y2":151,"v":3.5},{"x":15,"x2":16,"y":150,"y2":151,"v":4.5},{"x":16,"x2":17,"y":150,"y2":151,"v":4},{"x":17,"x2":19,"y":150,"y2":151,"v":4},
{"x":-0.5,"x2":1,"y":152,"y2":153,"v":2},{"x":1,"x2":2,"y":152,"y2":153,"v":4},{"x":3,"x2":4,"y":152,"y2":153,"v":4},{"x":6,"x2":8,"y":152,"y2":153,"v":4},{"x":15,"x2":19,"y":152,"y2":153,"v":3.7},
{"x":1,"x2":2,"y":153,"y2":154,"v":4.7},{"x":2,"x2":3,"y":153,"y2":154,"v":9},{"x":3,"x2":4,"y":153,"y2":154,"v":8.3},{"x":4,"x2":6,"y":153,"y2":154,"v":3.5},{"x":6,"x2":8,"y":153,"y2":154,"v":4},{"x":16,"x2":17,"y":153,"y2":154,"v":3.5},{"x":17,"x2":18,"y":153,"y2":154,"v":3.3},{"x":18,"x2":19,"y":153,"y2":154,"v":4},{"x":20,"x2":21,"y":153,"y2":154,"v":3.7},
{"x":1,"x2":2,"y":154,"y2":155,"v":3.5},{"x":3,"x2":4,"y":154,"y2":155,"v":4},{"x":5,"x2":9,"y":154,"y2":155,"v":3.7},{"x":15,"x2":19,"y":154,"y2":155,"v":3.7},{"x":20,"x2":21,"y":154,"y2":155,"v":3.7},
{"x":-0.5,"x2":1,"y":155,"y2":157,"v":2.5},{"x":1,"x2":2,"y":155,"y2":157,"v":3.5},{"x":7,"x2":9,"y":155,"y2":156,"v":3.7},{"x":3,"x2":4,"y":156,"y2":157,"v":3.5},
{"x":3,"x2":4,"y":157,"y2":158,"v":5},{"x":4,"x2":9,"y":157,"y2":158,"v":3.6},{"x":15,"x2":19,"y":157,"y2":158,"v":3.3},
{"x":-0.5,"x2":1,"y":158,"y2":159,"v":2.3},{"x":1,"x2":2,"y":158,"y2":159,"v":3.5},{"x":4,"x2":5,"y":158,"y2":159,"v":2.7},
{"x":3,"x2":4,"y":160,"y2":161,"v":4},{"x":5,"x2":9,"y":160,"y2":161,"v":3.5},{"x":15,"x2":16,"y":160,"y2":161,"v":4},{"x":16,"x2":18,"y":160,"y2":161,"v":3.5},
{"x":2,"x2":3,"y":161,"y2":162,"v":3.5},{"x":5,"x2":6,"y":161,"y2":162,"v":3.5},{"x":7,"x2":8,"y":161,"y2":162,"v":3.5},{"x":9,"x2":10,"y":161,"y2":162,"v":3.5},{"x":11,"x2":12,"y":161,"y2":162,"v":3.5},{"x":14,"x2":15,"y":161,"y2":162,"v":3.5},{"x":18,"x2":19,"y":161,"y2":162,"v":1.5},
{"x":3,"x2":6,"y":162,"y2":163,"v":3.5},{"x":6,"x2":9,"y":162,"y2":163,"v":3.9},{"x":9,"x2":10,"y":162,"y2":163,"v":3.5},{"x":16,"x2":19,"y":162,"y2":163,"v":3.7},
{"x":-0.5,"x2":1,"y":164,"y2":165,"v":2.5},{"x":-0.5,"x2":1,"y":165,"y2":166,"v":2.7},{"x":1,"x2":2,"y":164,"y2":166,"v":3.5}
]},
"mark":{"type":"rect","strokeWidth":0.6},
"encoding":{
"x":{"field":"x","type":"quantitative","scale":{"domain":[-2.366,54.38],"nice":false,"zero":false},"axis":null},"x2":{"field":"x2"},
"y":{"field":"y","type":"quantitative","scale":{"domain":[-6.397,168.83],"nice":false,"zero":false,"reverse":true},"axis":null},"y2":{"field":"y2"},
"color":{"field":"v","type":"quantitative","legend":null,"scale":{"domain":[0,1,2,3,3.5,4,5,6,7,8,9],"range":["#67ad78","#93bd78","#c7d782","#f6e581","#f8dd7d","#f5d07a","#eeb876","#e6a272","#de8e70","#d7766e","#cf606c"]}},
"stroke":{"field":"v","type":"quantitative","legend":null,"scale":{"domain":[0,1,2,3,3.5,4,5,6,7,8,9],"range":["#67ad78","#93bd78","#c7d782","#f6e581","#f8dd7d","#f5d07a","#eeb876","#e6a272","#de8e70","#d7766e","#cf606c"]}}}},
{"data":{"values":[{"x":-0.5,"x2":20,"y":-3.55,"y2":-1.52}]},"mark":{"type":"rect","color":"#cb4535"},
"encoding":{"x":{"field":"x","type":"quantitative","scale":{"domain":[-2.366,54.38],"nice":false,"zero":false},"axis":null},"x2":{"field":"x2"},"y":{"field":"y","type":"quantitative","scale":{"domain":[-6.397,168.83],"nice":false,"zero":false,"reverse":true},"axis":null},"y2":{"field":"y2"}}},
{"data":{"values":[{"x":25.709,"x2":25.709,"y":-0.296,"y2":31.837},{"x":24.945,"x2":25.709,"y":-0.296,"y2":-0.296},{"x":24.945,"x2":25.709,"y":31.837,"y2":31.837},{"x":25.709,"x2":26.557,"y":15.73,"y2":15.73},{"x":25.709,"x2":25.709,"y":32.325,"y2":165.9},{"x":24.945,"x2":25.709,"y":32.325,"y2":32.325},{"x":24.945,"x2":25.709,"y":165.9,"y2":165.9},{"x":25.709,"x2":26.557,"y":99.19,"y2":99.19}]},"mark":{"type":"rule","color":"#000","strokeWidth":2},
"encoding":{"x":{"field":"x","type":"quantitative","scale":{"domain":[-2.366,54.38],"nice":false,"zero":false},"axis":null},"x2":{"field":"x2"},"y":{"field":"y","type":"quantitative","scale":{"domain":[-6.397,168.83],"nice":false,"zero":false,"reverse":true},"axis":null},"y2":{"field":"y2"}}},
{"data":{"values":[{"x":28,"y":12.31,"t":"Other"},{"x":28,"y":25.98,"t":"spp. ("},{"x":36.947,"y":25.98,"t":"=33)"},{"x":28,"y":104.73,"t":"("},{"x":30.602,"y":104.73,"t":"=132)"}]},"mark":{"type":"text","font":"Liberation Sans","fontSize":34.5,"align":"left","baseline":"alphabetic","color":"#000"},
"encoding":{"x":{"field":"x","type":"quantitative","scale":{"domain":[-2.366,54.38],"nice":false,"zero":false},"axis":null},"y":{"field":"y","type":"quantitative","scale":{"domain":[-6.397,168.83],"nice":false,"zero":false,"reverse":true},"axis":null},"text":{"field":"t"}}},
{"data":{"values":[{"x":28,"y":19.146,"t":"Stenotrophomonas"},{"x":35.318,"y":25.98,"t":"n"},{"x":28,"y":97.89,"t":"S. maltophilia"},{"x":28.974,"y":104.73,"t":"n"}]},"mark":{"type":"text","font":"Liberation Sans","fontStyle":"italic","fontSize":34.5,"align":"left","baseline":"alphabetic","color":"#000"},
"encoding":{"x":{"field":"x","type":"quantitative","scale":{"domain":[-2.366,54.38],"nice":false,"zero":false},"axis":null},"y":{"field":"y","type":"quantitative","scale":{"domain":[-6.397,168.83],"nice":false,"zero":false,"reverse":true},"axis":null},"text":{"field":"t"}}},
{"data":{"values":[{"x":22.146,"y":0.436,"t":"*"}]},"mark":{"type":"text","font":"Liberation Sans","fontWeight":"bold","fontSize":36,"align":"center","baseline":"alphabetic","color":"#000"},
"encoding":{"x":{"field":"x","type":"quantitative","scale":{"domain":[-2.366,54.38],"nice":false,"zero":false},"axis":null},"y":{"field":"y","type":"quantitative","scale":{"domain":[-6.397,168.83],"nice":false,"zero":false,"reverse":true},"axis":null},"text":{"field":"t"}}}
]}
